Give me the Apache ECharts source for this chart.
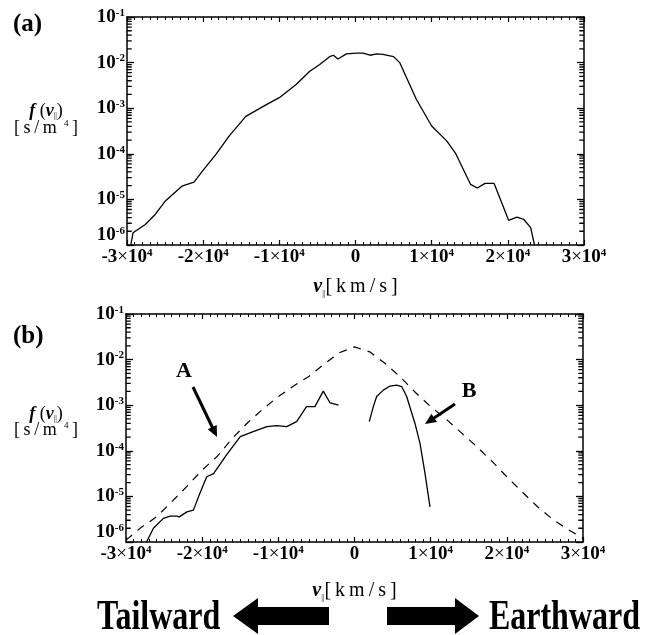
<!DOCTYPE html>
<html><head><meta charset="utf-8">
<script src="https://cdn.jsdelivr.net/npm/echarts@6/dist/echarts.min.js"></script>
<style>html,body{margin:0;padding:0;background:#fff}#c{width:654px;height:635px}</style>
</head><body><div id="c"></div>
<script>
// ---------- data ----------
const xTickValues = [-30000, -20000, -10000, 0, 10000, 20000, 30000];
const yDecades = [1e-6, 1e-5, 1e-4, 1e-3, 1e-2, 1e-1];
const panelLabels = ['(a)', '(b)'];

// (a) observed distribution
const aVel = [-29500, -29200, -27600, -26300, -25000, -22800, -21200, -20100, -18300, -16600,
  -14400, -11700, -10000, -7800, -6000, -4700, -3400, -2900, -2300, -1200,
  100, 1000, 1900, 2800, 3600, 5000, 5800, 8000, 10000, 12000,
  13100, 15100, 16000, 17000, 18200, 20100, 21200, 22100, 23000, 23500];
const aF = [1.0e-6, 1.86e-6, 2.82e-6, 4.68e-6, 9.1e-6, 1.95e-5, 2.4e-5, 4.17e-5, 9.8e-5, 2.45e-4,
  6.6e-4, 1.2e-3, 1.7e-3, 3.3e-3, 6.45e-3, 9.1e-3, 1.35e-2, 1.45e-2, 1.2e-2, 1.55e-2,
  1.62e-2, 1.62e-2, 1.45e-2, 1.55e-2, 1.51e-2, 1.35e-2, 1.0e-2, 1.55e-3, 4.07e-4, 1.9e-4,
  1.05e-4, 2.14e-5, 1.78e-5, 2.24e-5, 2.24e-5, 3.47e-6, 4.07e-6, 3.63e-6, 2.4e-6, 1.0e-6];

// (b) model (dashed)
const modelVel = [-30000, -28000, -26000, -24000, -22000, -20000, -18000, -16000, -14000, -12000,
  -10000, -8000, -6000, -4000, -2000, 0, 2000, 4000, 6000, 8000,
  10000, 12000, 14000, 16000, 18000, 20000, 22000, 24000, 26000, 28000, 30000];
const modelF = [1.1e-6, 2.09e-6, 3.55e-6, 7.6e-6, 1.66e-5, 3.8e-5, 7.6e-5, 1.9e-4, 4.17e-4, 8.3e-4,
  1.55e-3, 2.63e-3, 4.27e-3, 7.9e-3, 1.41e-2, 1.9e-2, 1.48e-2, 8.3e-3, 4.17e-3, 1.9e-3,
  9.3e-4, 5.0e-4, 2.5e-4, 1.26e-4, 6.0e-5, 2.7e-5, 1.26e-5, 6.0e-6, 3.16e-6, 1.9e-6, 1.2e-6];

// (b) component A
const compAVel = [-27300, -26400, -25100, -24200, -23300, -23000, -22000, -21150, -20300, -19400,
  -18500, -16800, -15000, -13300, -11500, -10200, -8900, -7600, -6300, -5200, -4100, -3200, -2100];
const compAF = [1.0e-6, 2.0e-6, 3.3e-6, 3.7e-6, 3.7e-6, 3.55e-6, 4.57e-6, 5.0e-6, 1.17e-5, 2.7e-5,
  3.16e-5, 8.1e-5, 2.04e-4, 2.63e-4, 3.4e-4, 3.55e-4, 3.4e-4, 4.37e-4, 9.3e-4, 9.3e-4, 2.04e-3, 1.12e-3, 1.0e-3];

// (b) component B
const compBVel = [1940, 2470, 2910, 3780, 4660, 5540, 6190, 6850, 7940, 8600, 9250, 9910];
const compBF = [4.37e-4, 9.3e-4, 1.55e-3, 2.14e-3, 2.63e-3, 2.75e-3, 2.57e-3, 1.55e-3, 3.98e-4, 1.45e-4, 3.24e-5, 5.9e-6];

// ---------- chart ----------
const FONT = '"Liberation Serif","Times New Roman",serif';
const zip = (xs, ys) => xs.map((x, i) => [x, ys[i]]);
const xMin = xTickValues[0], xMax = xTickValues[xTickValues.length - 1];
// minor log ticks 2..9 x 10^n
const minorY = [];
yDecades.slice(0, -1).forEach(d => { for (let k = 2; k <= 9; k++) minorY.push(+(k * d).toPrecision(3)); });
const TICK_LEN = 620; // in km/s, about 4.7 px
function minorTickData(x0, dir) {
  const d = [];
  minorY.forEach(v => { d.push([x0, v], [x0 + dir * TICK_LEN, v], [x0 + dir * TICK_LEN, '-']); });
  return d;
}

const richTick = {
  b: { fontFamily: FONT, fontWeight: 'bold', fontSize: 19, color: '#000', lineHeight: 19 },
  x: { fontFamily: FONT, fontSize: 19, color: '#000', lineHeight: 19 },
  s: { fontFamily: FONT, fontWeight: 'bold', fontSize: 11, color: '#000', lineHeight: 11, verticalAlign: 'top' }
};
const xLabel = v => v === 0 ? '{b|0}' : '{b|' + (v / 1e4) + '}{x|×}{b|10}{s|4}';
const yLabel = v => '{b|10}{s|' + Math.round(Math.log10(v)) + '}';

const grids = [
  { left: 127, top: 17, width: 457, height: 228 },
  { left: 126, top: 314, width: 457, height: 228 }
];

function xAxes(gi, gap) {
  const base = {
    type: 'value', gridIndex: gi, min: xMin, max: xMax, interval: 10000,
    axisLine: { show: true, onZero: false, lineStyle: { color: '#000', width: 1.5 } },
    axisTick: { show: true, inside: true, length: 5, lineStyle: { color: '#000', width: 1.2 } },
    minorTick: { show: true, splitNumber: 10, length: 3, lineStyle: { color: '#000', width: 1 } },
    splitLine: { show: false }, minorSplitLine: { show: false }
  };
  return [
    Object.assign({}, base, {
      position: 'bottom',
      axisLabel: { margin: 3, formatter: xLabel, rich: richTick },
      name: '{v|v}{sub|||}{u|[\u2009k\u2009m\u2009/\u2009s\u2009]}',
      nameLocation: 'middle', nameGap: gap,
      nameTextStyle: {
        rich: {
          v: { fontFamily: FONT, fontStyle: 'italic', fontWeight: 'bold', fontSize: 20, color: '#000', lineHeight: 22 },
          sub: { fontFamily: FONT, fontSize: 8, color: '#000', verticalAlign: 'bottom', lineHeight: 8 },
          u: { fontFamily: FONT, fontSize: 20, color: '#000', lineHeight: 22 }
        }
      }
    }),
    Object.assign({}, base, { position: 'top', axisLabel: { show: false } })
  ];
}

function yAxes(gi) {
  const base = {
    type: 'log', logBase: 10, gridIndex: gi, min: yDecades[0], max: yDecades[yDecades.length - 1], interval: 1,
    splitLine: { show: false },
    axisLine: { show: true, onZero: false, lineStyle: { color: '#000', width: 1.5 } },
    axisTick: { show: true, inside: true, length: 7, lineStyle: { color: '#000', width: 1.3 } }
  };
  return [
    Object.assign({}, base, { position: 'left',
      axisLabel: { margin: 2, formatter: yLabel, rich: richTick, verticalAlignMinLabel: 'bottom' } }),
    Object.assign({}, base, { position: 'right', axisLabel: { show: false } })
  ];
}

const solid = { color: '#000', width: 1.3 };
const tickStyle = { color: '#000', width: 1.3 };
const lineSeries = (xi, yi, data, ls) => ({
  type: 'line', xAxisIndex: xi, yAxisIndex: yi, data: data, symbol: 'none', clip: true,
  connectNulls: false, lineStyle: ls, silent: true
});

function yTitle(cx, cy1, cy2) {
  return [
    { type: 'text', x: cx, y: cy1, style: {
      text: '{f|f}{r| (}{f|v}{sub|||}{r|)}', align: 'center', verticalAlign: 'middle',
      rich: {
        f: { fontFamily: FONT, fontStyle: 'italic', fontWeight: 'bold', fontSize: 18, fill: '#000' },
        r: { fontFamily: FONT, fontSize: 18, fill: '#000' },
        sub: { fontFamily: FONT, fontSize: 8, fill: '#000', verticalAlign: 'bottom' }
      } } },
    { type: 'text', x: cx, y: cy2, style: {
      text: '{r|[\u2009s\u2009/\u2009m\u2009\u2009}{s|4}{r|\u2009]}', align: 'center', verticalAlign: 'middle',
      rich: {
        r: { fontFamily: FONT, fontSize: 18, fill: '#000', lineHeight: 18 },
        s: { fontFamily: FONT, fontSize: 9, fill: '#000', verticalAlign: 'top', lineHeight: 9 }
      } } }
  ];
}

function arrow(x1, y1, x2, y2, w, hl, hw) {
  const dx = x2 - x1, dy = y2 - y1, L = Math.hypot(dx, dy);
  const ux = dx / L, uy = dy / L, px = -uy, py = ux;
  const bx = x2 - ux * hl, by = y2 - uy * hl;
  return [
    { type: 'line', shape: { x1: x1, y1: y1, x2: bx + ux, y2: by + uy }, style: { stroke: '#000', lineWidth: w } },
    { type: 'polygon', shape: { points: [[x2, y2], [bx + px * hw, by + py * hw], [bx - px * hw, by - py * hw]] }, style: { fill: '#000' } }
  ];
}

const bigText = (t, x, align) => ({ type: 'text', x: x, y: 618, scaleY: 1.3, style: {
  text: t, fontFamily: FONT, fontWeight: 'bold', fontSize: 32, fill: '#000', align: align, verticalAlign: 'middle' } });

const graphic = [
  { type: 'text', x: 13, y: 25, style: { text: panelLabels[0], fontFamily: FONT, fontWeight: 'bold', fontSize: 25, fill: '#000', align: 'left', verticalAlign: 'middle' } },
  { type: 'text', x: 13, y: 337, style: { text: panelLabels[1], fontFamily: FONT, fontWeight: 'bold', fontSize: 25, fill: '#000', align: 'left', verticalAlign: 'middle' } },
  ...yTitle(46, 111, 128),
  ...yTitle(46, 414, 430),
  { type: 'text', x: 184, y: 371, style: { text: 'A', fontFamily: FONT, fontWeight: 'bold', fontSize: 22, fill: '#000', align: 'center', verticalAlign: 'middle' } },
  ...arrow(193, 387, 217, 437, 3, 11, 5),
  { type: 'text', x: 469, y: 391, style: { text: 'B', fontFamily: FONT, fontWeight: 'bold', fontSize: 22, fill: '#000', align: 'center', verticalAlign: 'middle' } },
  ...arrow(455, 404, 425, 424, 3, 11, 5),
  bigText('Tailward', 97, 'left'),
  bigText('Earthward', 640, 'right'),
  { type: 'polygon', shape: { points: [[233, 616], [258, 598], [258, 607], [329, 607], [329, 625], [258, 625], [258, 634]] }, style: { fill: '#000' } },
  { type: 'polygon', shape: { points: [[387, 607], [455, 607], [455, 598], [479, 616], [455, 634], [455, 625], [387, 625]] }, style: { fill: '#000' } }
];

const option = {
  animation: false,
  backgroundColor: '#fff',
  grid: grids,
  xAxis: [...xAxes(0, 31), ...xAxes(1, 38)],
  yAxis: [...yAxes(0), ...yAxes(1)],
  series: [
    lineSeries(0, 0, zip(aVel, aF), solid),
    lineSeries(2, 2, zip(modelVel, modelF), { color: '#000', width: 1.2, type: [8, 7] }),
    lineSeries(2, 2, zip(compAVel, compAF), solid),
    lineSeries(2, 2, zip(compBVel, compBF), solid),
    lineSeries(0, 0, minorTickData(xMin, 1), tickStyle),
    lineSeries(0, 0, minorTickData(xMax, -1), tickStyle),
    lineSeries(2, 2, minorTickData(xMin, 1), tickStyle),
    lineSeries(2, 2, minorTickData(xMax, -1), tickStyle)
  ],
  graphic: graphic
};
const chart = echarts.init(document.getElementById('c'));
chart.setOption(option);
</script></body></html>
